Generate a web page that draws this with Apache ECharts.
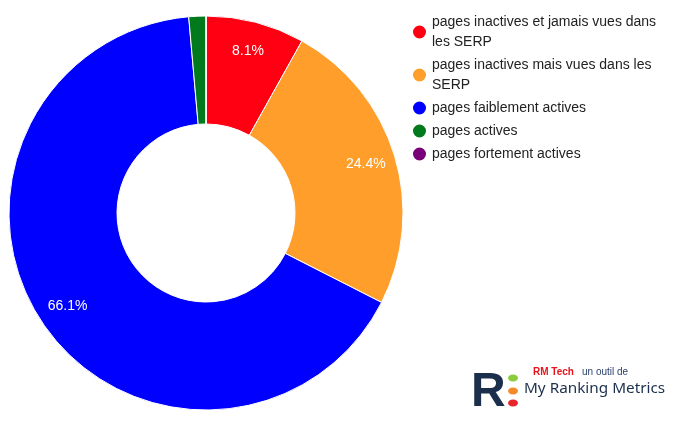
<!DOCTYPE html>
<html>
<head>
<meta charset="utf-8">
<script src="https://cdn.jsdelivr.net/npm/echarts@6/dist/echarts.min.js"></script>
<style>
  html, body { margin: 0; padding: 0; background: #fff; }
  #chart { width: 681px; height: 423px; }
</style>
</head>
<body>
<div id="chart"></div>
<script>
const categories = [
  'pages inactives et jamais vues dans\nles SERP',
  'pages inactives mais vues dans les\nSERP',
  'pages faiblement actives',
  'pages actives',
  'pages fortement actives'
];
const shares = [8.1, 24.4, 66.1, 1.4, 0];
const colors = ['#ff0012', '#ff9e2a', '#0000ff', '#007a1c', '#7a0078'];

const pieData = categories.map((name, i) => ({
  name: name,
  value: shares[i],
  itemStyle: { color: colors[i] }
}));

const chart = echarts.init(document.getElementById('chart'));

const option = {
  animation: false,
  legend: {
    orient: 'vertical',
    left: 411,
    top: 12,
    padding: 0,
    icon: 'circle',
    itemWidth: 15,
    itemHeight: 15,
    itemGap: 3,
    textStyle: {
      fontFamily: 'Liberation Sans, Arial, sans-serif',
      fontSize: 14,
      lineHeight: 20,
      color: '#222'
    },
    data: categories
  },
  series: [
    {
      type: 'pie',
      center: [206, 213],
      radius: [89, 197],
      startAngle: 90,
      clockwise: true,
      avoidLabelOverlap: false,
      label: { show: false },
      labelLine: { show: false },
      itemStyle: { borderColor: '#fff', borderWidth: 1 },
      emphasis: { disabled: true },
      data: pieData
    },
    {
      // label ring only, sits a bit outside the middle of the donut
      type: 'pie',
      center: [206, 213],
      radius: [150, 178],
      startAngle: 90,
      silent: true,
      legendHoverLink: false,
      itemStyle: { color: 'rgba(0,0,0,0)' },
      emphasis: { disabled: true },
      label: {
        show: true,
        position: 'inside',
        color: '#fff',
        fontFamily: 'Liberation Sans, Arial, sans-serif',
        fontSize: 14,
        formatter: p => p.value >= 5 ? p.value.toFixed(1) + '%' : ''
      },
      labelLine: { show: false },
      data: pieData.map(d => ({ name: d.name, value: d.value, itemStyle: { color: 'rgba(0,0,0,0)' } }))
    }
  ],
  graphic: [
    {
      type: 'text', left: 471, top: 369,
      style: { text: 'R', fontSize: 48, fontWeight: 'bold', fontFamily: 'Liberation Sans, Arial, sans-serif', fill: '#1b2f4c' }
    },
    { type: 'ellipse', shape: { cx: 513, cy: 378, rx: 5, ry: 3.5 }, style: { fill: '#8ccc3c' } },
    { type: 'ellipse', shape: { cx: 513, cy: 391, rx: 5, ry: 3.5 }, style: { fill: '#f58a2a' } },
    { type: 'ellipse', shape: { cx: 513, cy: 403, rx: 5, ry: 3.5 }, style: { fill: '#e8262a' } },
    {
      type: 'text', left: 533, top: 367,
      style: { text: 'RM Tech', fontSize: 10, fontWeight: 'bold', fontFamily: 'Liberation Sans, Arial, sans-serif', fill: '#e8141c' }
    },
    {
      type: 'text', left: 582, top: 367,
      style: { text: 'un outil de', fontSize: 10, fontFamily: 'Liberation Sans, Arial, sans-serif', fill: '#2b3f6b' }
    },
    {
      type: 'text', left: 524, top: 381,
      style: { text: 'My Ranking Metrics', fontSize: 15.3, fontFamily: 'Noto Sans, sans-serif', fill: '#1b2f4c' }
    }
  ]
};

chart.setOption(option);
</script>
</body>
</html>
